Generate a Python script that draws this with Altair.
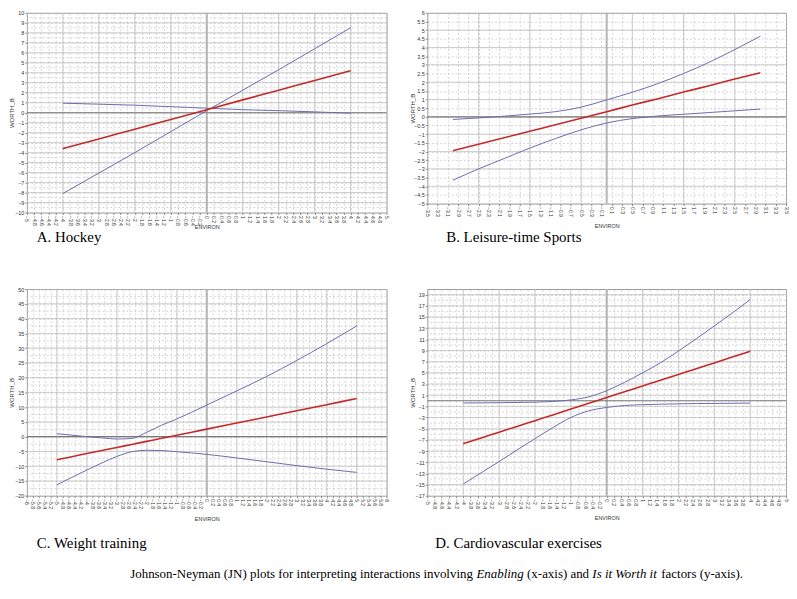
import altair as alt
import pandas as pd

# ---------------- data ----------------
HOCKEY_X = [-4, -3, -2, -1, 0, 1, 2, 3, 4]
HOCKEY_EFFECT = [-3.6, -2.63, -1.65, -0.68, 0.3, 1.28, 2.25, 3.23, 4.2]
HOCKEY_BAND_A = [0.95, 0.85, 0.75, 0.6, 0.45, 0.3, 0.2, 0.08, -0.05]
HOCKEY_BAND_B = [-8.1, -6.05, -4.0, -1.9, 0.2, 2.25, 4.3, 6.4, 8.5]

LEISURE_X = [-3, -2.5, -2, -1.5, -1, -0.5, 0, 0.5, 1, 1.5, 2, 2.5, 3]
LEISURE_EFFECT = [-1.95, -1.58, -1.2, -0.83, -0.45, -0.08, 0.3, 0.68, 1.05, 1.43, 1.8, 2.18, 2.55]
LEISURE_UPPER = [-0.15, -0.06, 0.04, 0.16, 0.3, 0.56, 0.98, 1.42, 1.92, 2.5, 3.15, 3.88, 4.65]
LEISURE_LOWER = [-3.65, -3.0, -2.4, -1.8, -1.25, -0.75, -0.35, -0.1, 0.05, 0.15, 0.25, 0.35, 0.45]

WEIGHT_X = [-5, -4.5, -4, -3.5, -3, -2.5, -2, -1.5, -1, -0.5, 0, 1, 2, 3, 4, 5]
WEIGHT_EFFECT = [-7.8, -6.77, -5.73, -4.7, -3.66, -2.63, -1.59, -0.56, 0.48, 1.51, 2.55,
                 4.62, 6.69, 8.76, 10.83, 12.9]
WEIGHT_UPPER = [1.0, 0.5, 0.0, -0.4, -0.8, -0.6, 1.5, 3.9, 6.0, 8.3, 10.7,
                15.5, 20.4, 25.8, 31.5, 37.5]
WEIGHT_LOWER = [-16.3, -13.8, -11.3, -8.9, -6.7, -5.1, -4.6, -4.7, -5.1, -5.5, -6.0,
                -7.2, -8.5, -9.8, -11.0, -12.1]

CARDIO_X = [-4, -3.5, -3, -2.5, -2, -1.5, -1, -0.5, 0, 0.5, 1, 1.5, 2, 2.5, 3, 3.5, 4]
CARDIO_EFFECT = [-7.7, -6.67, -5.63, -4.6, -3.56, -2.53, -1.49, -0.46, 0.58, 1.61, 2.64,
                 3.68, 4.71, 5.75, 6.78, 7.82, 8.85]
CARDIO_UPPER = [-0.4, -0.38, -0.35, -0.3, -0.25, -0.12, 0.15, 0.7, 1.8, 3.3, 5.0,
                6.8, 8.9, 11.1, 13.4, 15.7, 18.1]
CARDIO_LOWER = [-14.9, -12.9, -10.9, -8.8, -6.8, -4.8, -3.0, -1.8, -1.2, -0.85, -0.7,
                -0.62, -0.55, -0.5, -0.48, -0.45, -0.42]

CAPTIONS = ["A. Hockey", "B. Leisure-time Sports", "C. Weight training",
            "D. Cardiovascular exercises"]
FOOT_PIECES = ["Johnson-Neyman (JN) plots for interpreting interactions involving",
               "Enabling", "(x-axis) and", "Is it Worth it", "factors (y-axis)."]
FOOT_ITALIC = [False, True, False, True, False]


def steps(start, stop, step):
    n = int(round((stop - start) / step))
    return [round(start + i * step, 4) for i in range(n + 1)]


# tick label sets
HOCKEY_XTICKS = steps(-5, 5, 0.2)
HOCKEY_YTICKS = steps(-10, 10, 1)
LEISURE_XTICKS = steps(-3.5, 3.5, 0.2)
LEISURE_YTICKS = steps(-5, 6, 0.5)
WEIGHT_XTICKS = steps(-6, 6, 0.2)
WEIGHT_YTICKS = steps(-20, 50, 5)
CARDIO_XTICKS = steps(-5, 5, 0.2)
CARDIO_YTICKS = steps(-17, 19, 2)

FONT = "Liberation Sans"
SERIF = "Liberation Serif"
BLUE = "#6c6cb0"
RED = "#c42a2a"
GRID = "#c2c2c2"


def panel(xs, effect, upper, lower, xdom, ydom, xticks, yticks, xmajor, ymajor,
          yminor, w, h, caption, cap_x, cap_y, xtitle_y, extra=()):
    xscale = alt.Scale(domain=xdom, nice=False, zero=False)
    yscale = alt.Scale(domain=ydom, nice=False, zero=False)
    xaxis = alt.Axis(values=xticks, format="~r", labelAngle=90, labelFontSize=5,
                     labelFont=FONT, labelColor="#333", labelOverlap=False,
                     labelFlush=False, labelPadding=1, tickSize=2, tickColor="#888",
                     domain=False, grid=True, gridColor=GRID, gridDash=[2, 2],
                     gridWidth=0.7, title="ENVIRON", titleFont=FONT, titleFontSize=5.5,
                     titleFontWeight="normal", titleColor="#333", titleY=xtitle_y,
                     titleBaseline="middle", titleAlign="center")
    yaxis = alt.Axis(values=yticks, format="~r", labelFontSize=5.5, labelFont=FONT,
                     labelColor="#333", labelOverlap=False, labelFlush=False,
                     labelPadding=1, tickSize=2, tickColor="#888", domain=False,
                     grid=True, gridColor=GRID, gridDash=[2, 2], gridWidth=0.7,
                     title="WORTH_B", titleFont=FONT, titleFontSize=6,
                     titleFontWeight="normal", titleColor="#333", titleX=-15,
                     titleY=h / 2, titleAngle=270, titleBaseline="middle",
                     titleAlign="center")
    X = alt.X("x:Q", scale=xscale, axis=xaxis)
    Y = alt.Y("y:Q", scale=yscale, axis=yaxis)

    layers = [
        alt.Chart(pd.DataFrame({"y": yminor})).mark_rule(
            color=GRID, strokeWidth=0.7, strokeDash=[2, 2]).encode(y=Y),
        alt.Chart(pd.DataFrame({"x": xmajor})).mark_rule(
            color=GRID, strokeWidth=0.8).encode(x=X),
        alt.Chart(pd.DataFrame({"y": ymajor})).mark_rule(
            color=GRID, strokeWidth=0.8).encode(y=Y),
        alt.Chart(pd.DataFrame({"x": [0]})).mark_rule(
            color="#b4b4b4", strokeWidth=2).encode(x=X),
        alt.Chart(pd.DataFrame({"y": [0]})).mark_rule(
            color="#7a7a7a", strokeWidth=1.1).encode(y=Y),
    ]
    for vals, col, sw in [(upper, BLUE, 1.0), (lower, BLUE, 1.0), (effect, RED, 1.6)]:
        layers.append(
            alt.Chart(pd.DataFrame({"x": xs, "y": vals})).mark_line(
                color=col, strokeWidth=sw, interpolate="monotone").encode(x=X, y=Y))
    layers.append(
        alt.Chart(pd.DataFrame({"t": [caption]})).mark_text(
            align="left", baseline="middle", font=SERIF, fontSize=15, color="black"
        ).encode(x=alt.value(cap_x), y=alt.value(cap_y), text="t:N"))
    layers.extend(extra)
    return alt.layer(*layers).properties(width=w, height=h)


# footnote pieces (Times metrics, 13px), x relative to panel C origin
FOOT_X = [104, 452.4, 503.4, 569.1, 638.5]
foot_layers = []
for piece, ital, fx in zip(FOOT_PIECES, FOOT_ITALIC, FOOT_X):
    foot_layers.append(
        alt.Chart(pd.DataFrame({"t": [piece]})).mark_text(
            align="left", baseline="middle", font=SERIF, fontSize=13, color="black",
            fontStyle="italic" if ital else "normal"
        ).encode(x=alt.value(fx), y=alt.value(287), text="t:N"))

A = panel(HOCKEY_X, HOCKEY_EFFECT, HOCKEY_BAND_A, HOCKEY_BAND_B, [-5, 5], [-10, 10],
          HOCKEY_XTICKS, HOCKEY_YTICKS, steps(-4, 4, 1), steps(-9, 9, 1),
          steps(-9.5, 9.5, 1), 362, 201, CAPTIONS[0], 10, 226, 14)
B = panel(LEISURE_X, LEISURE_EFFECT, LEISURE_UPPER, LEISURE_LOWER, [-3.5, 3.5], [-5, 6],
          LEISURE_XTICKS, LEISURE_YTICKS, [-2.5, -1.5, -0.5, 0.5, 1.5, 2.5],
          steps(-4, 5, 1), [], 361, 192, CAPTIONS[1], 19, 226, 22)
C = panel(WEIGHT_X, WEIGHT_EFFECT, WEIGHT_UPPER, WEIGHT_LOWER, [-6, 6], [-20, 50],
          WEIGHT_XTICKS, WEIGHT_YTICKS, steps(-5, 5, 1), steps(-15, 45, 5),
          steps(-17.5, 47.5, 5), 362, 208, CAPTIONS[2], 10, 256, 23, foot_layers)
D = panel(CARDIO_X, CARDIO_EFFECT, CARDIO_UPPER, CARDIO_LOWER, [-5, 5], [-17, 20],
          CARDIO_XTICKS, CARDIO_YTICKS, steps(-4, 4, 1), steps(-15, 19, 2),
          steps(-16, 18, 2), 361, 208, CAPTIONS[3], 8, 256, 22)

chart = alt.concat(A, B, C, D, columns=2, spacing={"row": 77, "column": 41},
                   bounds="flush").properties(padding=0).configure_view(
    stroke="#9a9a9a", strokeWidth=1)

chart.save("out.html", embed_options={"renderer": "svg", "actions": False})
